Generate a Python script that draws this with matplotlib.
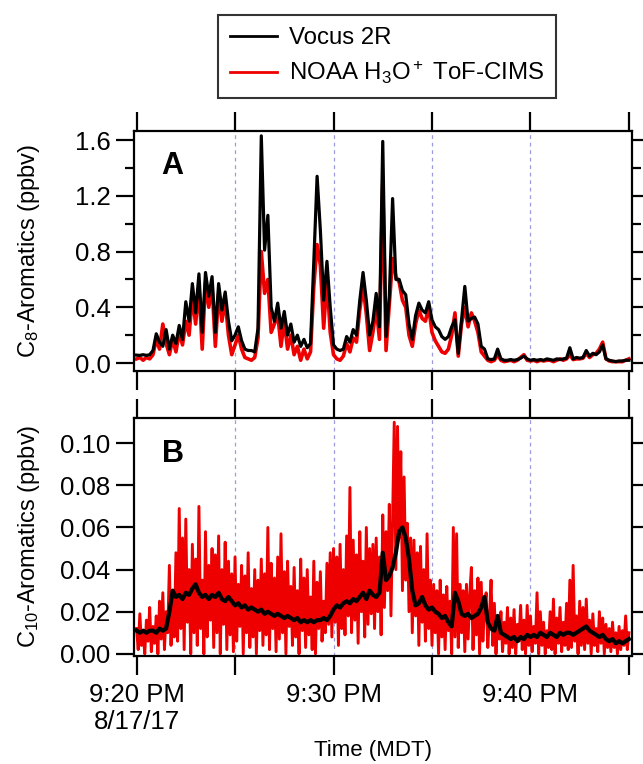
import matplotlib
matplotlib.use('Agg')
import matplotlib.pyplot as plt
import numpy as np
from matplotlib.ticker import MultipleLocator
from matplotlib.lines import Line2D

plt.rcParams['font.family'] = ['Liberation Sans', 'DejaVu Sans']
plt.rcParams['mathtext.fontset'] = 'custom'
plt.rcParams['mathtext.rm'] = 'Liberation Sans'
plt.rcParams['mathtext.it'] = 'Liberation Sans:italic'
plt.rcParams['mathtext.bf'] = 'Liberation Sans:bold'

# ---------------- data ----------------
# minutes after 9:20 PM MDT, 8/17/17
c8_interval_s = 10
c8_vocus = [
    0.057, 0.055, 0.06, 0.055, 0.06, 0.09, 0.21, 0.15, 0.12, 0.24, 0.10, 0.20,
    0.14, 0.27, 0.17, 0.44, 0.30, 0.57, 0.36, 0.64, 0.22, 0.65, 0.48, 0.62,
    0.22, 0.57, 0.38, 0.51, 0.30, 0.16, 0.20, 0.26, 0.16, 0.10, 0.09, 0.09,
    0.08, 0.25, 1.63, 0.81, 1.06, 0.40, 0.30, 0.43, 0.25, 0.37, 0.20, 0.28,
    0.15, 0.20, 0.12, 0.17, 0.11, 0.14, 0.73, 1.34, 0.95, 0.45, 0.73, 0.40,
    0.13, 0.10, 0.09, 0.10, 0.19, 0.15, 0.24, 0.20, 0.45, 0.65, 0.45, 0.20,
    0.30, 0.50, 0.26, 1.59, 0.19, 0.48, 1.18, 0.60, 0.60, 0.52, 0.49, 0.28,
    0.17, 0.34, 0.43, 0.38, 0.36, 0.44, 0.31, 0.26, 0.24, 0.19, 0.17, 0.19,
    0.26, 0.31, 0.07, 0.31, 0.55, 0.30, 0.32, 0.33, 0.28, 0.12, 0.10, 0.03,
    0.025, 0.03, 0.10, 0.03, 0.02, 0.02, 0.025, 0.02, 0.025, 0.035, 0.05, 0.03,
    0.02, 0.025, 0.02, 0.025, 0.02, 0.03, 0.025, 0.02, 0.03, 0.025, 0.03, 0.035,
    0.11, 0.03, 0.04, 0.035, 0.04, 0.09, 0.05, 0.07, 0.06, 0.08, 0.13, 0.03,
    0.02, 0.015, 0.01, 0.015, 0.015, 0.02, 0.02,
]
c8_noaa = [
    0.03, 0.04, 0.02, 0.04, 0.03, 0.06, 0.17, 0.10, 0.28, 0.14, 0.06, 0.17,
    0.08, 0.22, 0.13, 0.30, 0.20, 0.48, 0.28, 0.55, 0.10, 0.58, 0.40, 0.55,
    0.12, 0.50, 0.30, 0.45, 0.20, 0.06, 0.13, 0.20, 0.10, 0.04, 0.03, 0.02,
    0.04, 0.18, 0.80, 0.50, 0.60, 0.22, 0.28, 0.35, 0.12, 0.30, 0.10, 0.20,
    0.06, 0.12, 0.02, 0.10, 0.03, 0.08, 0.55, 0.85, 0.70, 0.25, 0.60, 0.22,
    0.06, 0.03, 0.02, 0.05, 0.14, 0.08, 0.18, 0.15, 0.38, 0.55, 0.35, 0.09,
    0.22, 0.40, 0.17, 1.30, 0.09, 0.42, 0.75, 0.62, 0.58, 0.45, 0.40, 0.20,
    0.12, 0.28, 0.38, 0.32, 0.30, 0.40, 0.22, 0.16, 0.12, 0.08, 0.07, 0.10,
    0.20, 0.36, 0.05, 0.28, 0.40, 0.26, 0.36, 0.30, 0.22, 0.08, 0.05, 0.02,
    0.01, 0.02, 0.06, 0.02, 0.01, 0.015, 0.02, 0.01, 0.02, 0.04, 0.06, 0.02,
    0.015, 0.02, 0.01, 0.02, 0.015, 0.02, 0.02, 0.01, 0.02, 0.03, 0.02, 0.03,
    0.06, 0.025, 0.03, 0.03, 0.035, 0.07, 0.04, 0.06, 0.07, 0.10, 0.15, 0.03,
    0.015, 0.01, 0.01, 0.01, 0.01, 0.02, 0.03,
]

c10_vocus_interval_s = 10
c10_vocus = [
    0.011, 0.010, 0.011, 0.010, 0.011, 0.011, 0.010, 0.012, 0.011, 0.012,
    0.020, 0.030, 0.027, 0.028, 0.026, 0.029, 0.028, 0.031, 0.033,
    0.029, 0.027, 0.028, 0.026, 0.028, 0.027, 0.029, 0.026, 0.025, 0.027,
    0.025, 0.023, 0.024, 0.022, 0.023, 0.021, 0.022,
    0.021, 0.020, 0.021, 0.019, 0.020, 0.019, 0.018, 0.019, 0.018, 0.017, 0.018, 0.017,
    0.016, 0.017, 0.015, 0.016, 0.015, 0.016, 0.015, 0.016, 0.016, 0.017, 0.016, 0.018,
    0.021, 0.023, 0.022, 0.024, 0.025, 0.024, 0.026, 0.025, 0.027,
    0.029, 0.026, 0.030, 0.028, 0.027, 0.029,
    0.048, 0.035, 0.037, 0.041, 0.048, 0.058, 0.060, 0.055, 0.045, 0.030,
    0.023, 0.024, 0.027, 0.023, 0.021, 0.022,
    0.020, 0.019, 0.017, 0.018, 0.015, 0.013, 0.029, 0.025,
    0.019, 0.018, 0.019, 0.017, 0.018, 0.019, 0.022, 0.027, 0.015, 0.012, 0.011,
    0.018, 0.010, 0.009, 0.008, 0.007, 0.008, 0.006, 0.008, 0.007, 0.009,
    0.008, 0.009, 0.008, 0.010, 0.009, 0.008, 0.010, 0.009, 0.008, 0.010, 0.009, 0.010,
    0.010, 0.009, 0.010, 0.011, 0.012, 0.013,
    0.011, 0.010, 0.009, 0.008, 0.009, 0.007,
    0.006, 0.007, 0.005, 0.006, 0.005, 0.006, 0.007,
]

c10_noaa_interval_s = 5
c10_noaa = [
    0.012, 0.002, 0.019, 0.004, 0.010, 0.000, 0.016, 0.006, 0.022, 0.001, 0.013, 0.005,
    0.018, 0.000, 0.025, 0.007, 0.029, 0.002, 0.020, 0.010, 0.042, 0.004, 0.030, 0.008,
    0.048, 0.006, 0.069, 0.012, 0.055, 0.002, 0.064, 0.015, 0.040, 0.000, 0.052, 0.010,
    0.045, 0.004, 0.070, 0.012, 0.035, 0.000, 0.058, 0.008, 0.042, 0.016, 0.050, 0.003,
    0.047, 0.010, 0.056, 0.000, 0.040, 0.014, 0.053, 0.002, 0.044, 0.009, 0.038, 0.001,
    0.046, 0.006, 0.033, 0.013, 0.042, 0.000, 0.037, 0.010, 0.048, 0.003, 0.031, 0.008,
    0.040, 0.000, 0.035, 0.011, 0.045, 0.004, 0.038, 0.009, 0.060, 0.002, 0.043, 0.012,
    0.036, 0.001, 0.046, 0.007, 0.057, 0.010, 0.039, 0.000, 0.044, 0.013, 0.032, 0.004,
    0.041, 0.008, 0.030, 0.000, 0.045, 0.011, 0.036, 0.003, 0.040, 0.009, 0.027, 0.002,
    0.044, 0.000, 0.034, 0.012, 0.039, 0.006, 0.025, 0.010, 0.043, 0.014, 0.048, 0.008,
    0.050, 0.015, 0.046, 0.004, 0.052, 0.012, 0.040, 0.009, 0.056, 0.018, 0.079, 0.010,
    0.054, 0.016, 0.047, 0.005, 0.058, 0.020, 0.044, 0.008, 0.060, 0.014, 0.050, 0.019,
    0.052, 0.012, 0.055, 0.020, 0.046, 0.009, 0.066, 0.022, 0.058, 0.030, 0.071, 0.018,
    0.065, 0.110, 0.040, 0.108, 0.055, 0.096, 0.030, 0.084, 0.035, 0.062, 0.020, 0.055,
    0.010, 0.054, 0.018, 0.048, 0.004, 0.051, 0.015, 0.040, 0.006, 0.057, 0.012, 0.035,
    0.004, 0.033, 0.010, 0.030, 0.000, 0.035, 0.008, 0.028, 0.002, 0.032, 0.011, 0.025,
    0.000, 0.060, 0.008, 0.057, 0.003, 0.033, 0.010, 0.030, 0.001, 0.033, 0.007, 0.028,
    0.041, 0.002, 0.030, 0.009, 0.036, 0.000, 0.034, 0.006, 0.022, 0.029, 0.003, 0.018,
    0.035, 0.004, 0.024, 0.000, 0.018, 0.007, 0.020, 0.001, 0.015, 0.005, 0.022, 0.000,
    0.017, 0.003, 0.021, 0.000, 0.014, 0.006, 0.023, 0.002, 0.016, 0.000, 0.023, 0.004,
    0.018, 0.001, 0.013, 0.005, 0.029, 0.000, 0.020, 0.004, 0.015, 0.000, 0.011, 0.003,
    0.020, 0.002, 0.026, 0.000, 0.017, 0.005, 0.022, 0.001, 0.015, 0.004, 0.024, 0.002,
    0.035, 0.003, 0.042, 0.006, 0.018, 0.000, 0.025, 0.004, 0.022, 0.002, 0.026, 0.005,
    0.016, 0.000, 0.019, 0.004, 0.012, 0.001, 0.020, 0.005, 0.017, 0.000, 0.014, 0.003,
    0.012, 0.001, 0.015, 0.003, 0.010, 0.000, 0.013, 0.002, 0.011, 0.004, 0.018, 0.002,
    0.010,
]

xtick_pos = [0, 5, 10, 15, 20, 25]
xtick_labels = ["9:20 PM\n8/17/17", "", "9:30 PM", "", "9:40 PM", ""]
grid_pos = [5, 10, 15, 20]


def times(vals, interval_s):
    return np.arange(len(vals)) * interval_s / 60.0


# ---------------- figure ----------------
W, H = 643, 764
fig = plt.figure(figsize=(W / 100, H / 100), dpi=100)


def ax_rect(l, t, r, b):
    return [l / W, 1 - b / H, (r - l) / W, (b - t) / H]


axA = fig.add_axes(ax_rect(134, 131, 631.5, 371))
axB = fig.add_axes(ax_rect(134, 418, 631.5, 655.5))

RED = '#ee0000'
TFS = 18.5   # tick labels
LFS = 17     # y axis labels
XLFS = 16    # x axis label
LEGFS = 17.3
YLAB_X = -92 / 497.5

for ax in (axA, axB):
    for g in grid_pos:
        ax.axvline(g, color='#9c9cdc', lw=0.9, ls=(0, (3, 3)), zorder=0)
    ax.set_xlim(-0.13, 25.13)
    ax.set_xticks(xtick_pos)
    for s in ax.spines.values():
        s.set_linewidth(1.6)
    ax.tick_params(axis='x', which='both', direction='out', length=13.5, width=1.6,
                   top=True, bottom=True, labelsize=TFS, pad=6)
    ax.tick_params(axis='y', which='major', direction='out', length=13, width=1.6,
                   left=True, right=True, labelsize=TFS, pad=4)
    ax.tick_params(axis='y', which='minor', direction='out', length=6.5, width=1.6,
                   left=True, right=True)

axA.plot(times(c8_noaa, c8_interval_s), c8_noaa, color=RED, lw=2.6, zorder=2)
axA.plot(times(c8_vocus, c8_interval_s), c8_vocus, color='black', lw=2.3, zorder=3)
axA.set_ylim(-0.057, 1.665)
axA.set_yticks([0.0, 0.4, 0.8, 1.2, 1.6])
axA.set_yticklabels(['0.0', '0.4', '0.8', '1.2', '1.6'])
axA.yaxis.set_minor_locator(MultipleLocator(0.2))
axA.set_xticklabels([])
axA.set_ylabel('C$_8$-Aromatics (ppbv)', fontsize=LFS)
axA.yaxis.set_label_coords(YLAB_X, 0.5)
axA.text(0.077, 0.855, 'A', transform=axA.transAxes, fontsize=22, fontweight='bold',
         ha='center', va='center')

axB.plot(times(c10_noaa, c10_noaa_interval_s), c10_noaa, color=RED, lw=2.1, zorder=2)
axB.plot(times(c10_vocus, c10_vocus_interval_s), c10_vocus, color='black', lw=3.0, zorder=3)
axB.set_ylim(-0.0008, 0.112)
axB.set_yticks([0.00, 0.02, 0.04, 0.06, 0.08, 0.10])
axB.set_yticklabels(['0.00', '0.02', '0.04', '0.06', '0.08', '0.10'])
axB.set_xticklabels(xtick_labels)
axB.set_ylabel('C$_{10}$-Aromatics (ppbv)', fontsize=LFS)
axB.yaxis.set_label_coords(YLAB_X, 0.5)
axB.set_xlabel('Time (MDT)', fontsize=XLFS)
axB.xaxis.set_label_coords((373 - 134) / 497.5, (655.5 - 740) / 237.5)
axB.text(0.078, 0.85, 'B', transform=axB.transAxes, fontsize=22, fontweight='bold',
         ha='center', va='center')

handles = [Line2D([], [], color='black', lw=2.0), Line2D([], [], color=RED, lw=2.0)]
leg = fig.legend(handles, ['Vocus 2R', 'NOAA H$_3$O$^+$ ToF-CIMS'],
                 loc='upper left', bbox_to_anchor=(218 / W, 1 - 15 / H),
                 fontsize=LEGFS, frameon=True, fancybox=False, edgecolor='black',
                 handlelength=1.95, handletextpad=0.5, borderpad=0.5,
                 labelspacing=0.42, borderaxespad=0)
leg.get_frame().set_linewidth(1.5)

fig.savefig('out.png', dpi=100)
